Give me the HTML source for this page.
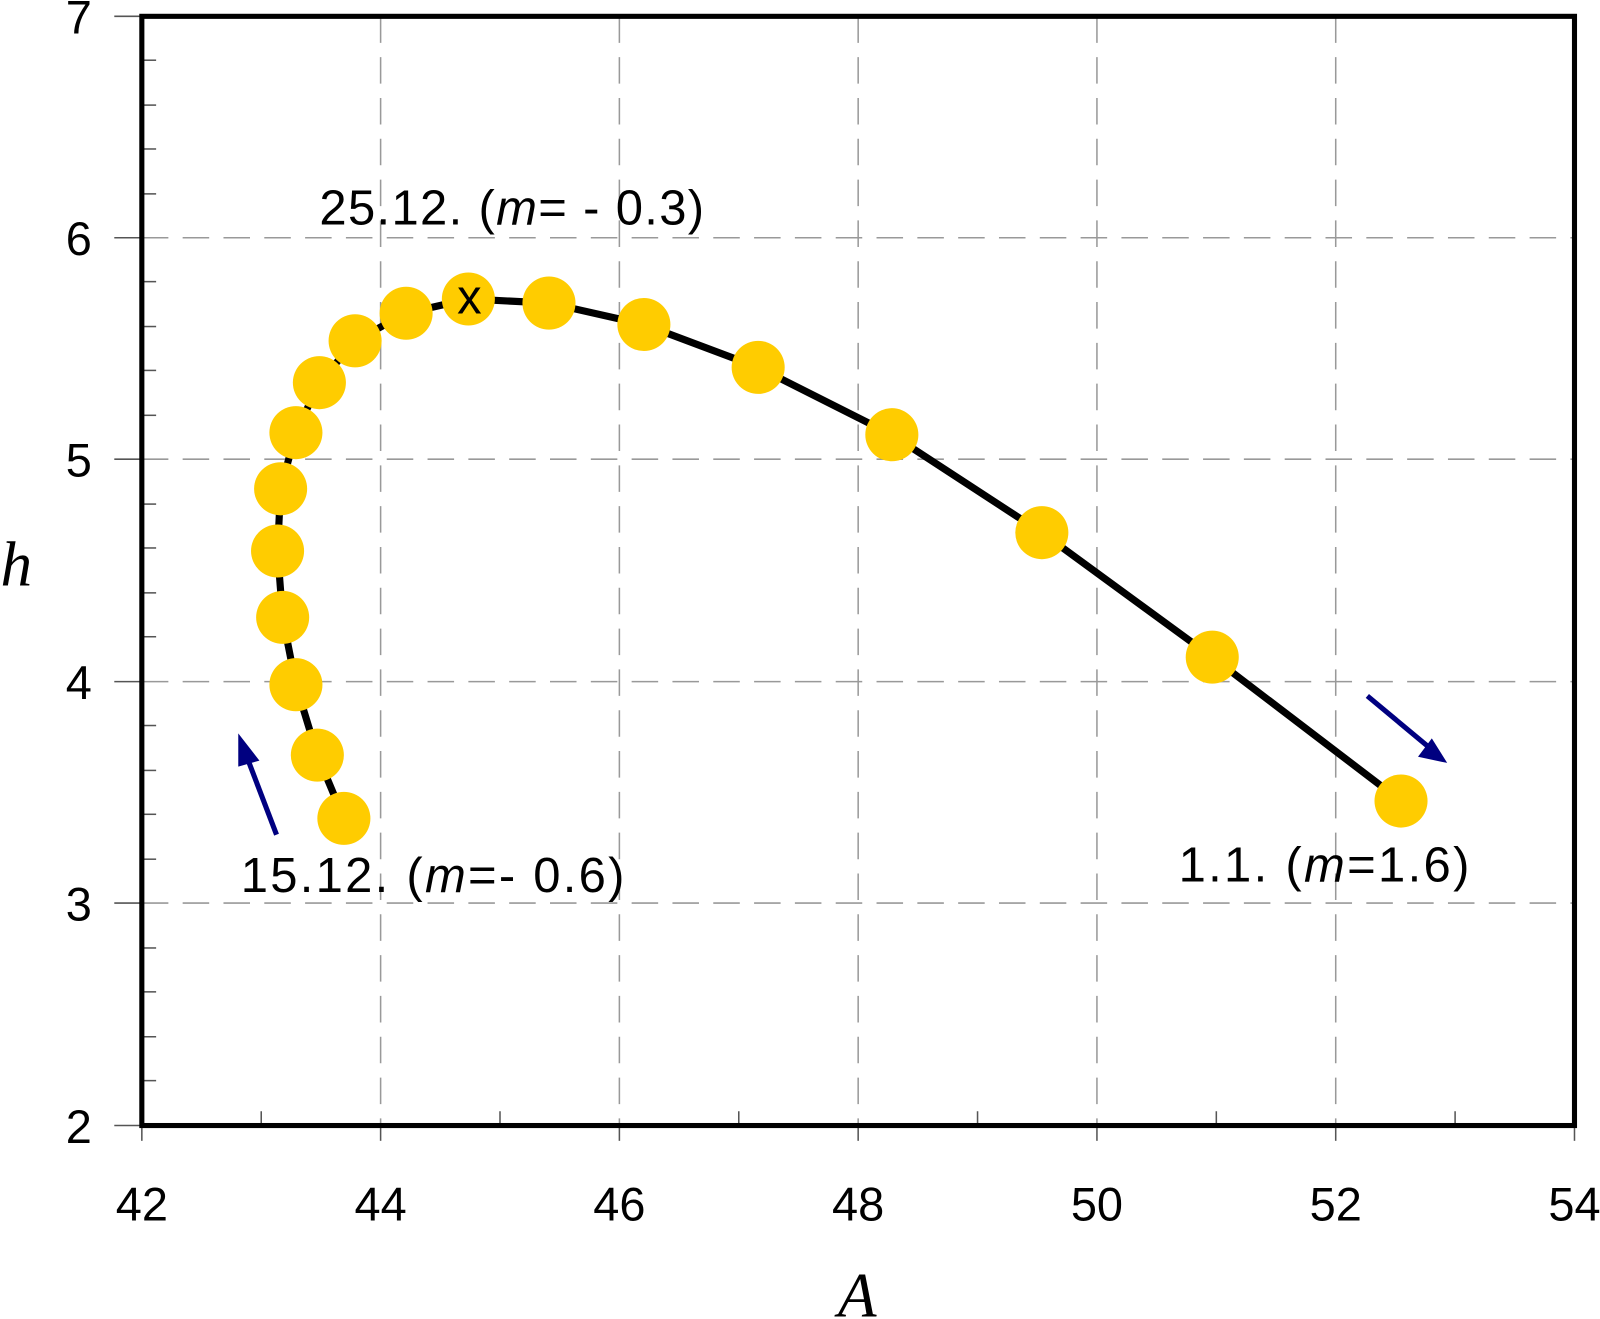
<!DOCTYPE html>
<html><head><meta charset="utf-8"><style>html,body{margin:0;padding:0;background:#fff}svg{display:block}</style></head><body>
<svg width="1600" height="1319" viewBox="0 0 1568 1292.6" preserveAspectRatio="none" xmlns="http://www.w3.org/2000/svg" font-family="Liberation Sans, sans-serif">
<g stroke="#999" stroke-width="1.5" stroke-dasharray="26,14" fill="none">
<line x1="373" y1="16" x2="373" y2="1103"/><line x1="607" y1="16" x2="607" y2="1103"/><line x1="841" y1="16" x2="841" y2="1103"/><line x1="1075" y1="16" x2="1075" y2="1103"/><line x1="1309" y1="16" x2="1309" y2="1103"/>
<line x1="139" y1="233" x2="1543" y2="233"/><line x1="139" y1="450" x2="1543" y2="450"/><line x1="139" y1="668" x2="1543" y2="668"/><line x1="139" y1="885" x2="1543" y2="885"/>
</g>
<g stroke="#555" stroke-width="1.5">
<line x1="139" y1="59" x2="153" y2="59"/><line x1="139" y1="103" x2="153" y2="103"/><line x1="139" y1="146" x2="153" y2="146"/><line x1="139" y1="190" x2="153" y2="190"/>
<line x1="139" y1="276" x2="153" y2="276"/><line x1="139" y1="320" x2="153" y2="320"/><line x1="139" y1="363" x2="153" y2="363"/><line x1="139" y1="407" x2="153" y2="407"/>
<line x1="139" y1="494" x2="153" y2="494"/><line x1="139" y1="537" x2="153" y2="537"/><line x1="139" y1="581" x2="153" y2="581"/><line x1="139" y1="624" x2="153" y2="624"/>
<line x1="139" y1="711" x2="153" y2="711"/><line x1="139" y1="755" x2="153" y2="755"/><line x1="139" y1="798" x2="153" y2="798"/><line x1="139" y1="842" x2="153" y2="842"/>
<line x1="139" y1="929" x2="153" y2="929"/><line x1="139" y1="972" x2="153" y2="972"/><line x1="139" y1="1016" x2="153" y2="1016"/><line x1="139" y1="1059" x2="153" y2="1059"/>
<line x1="256" y1="1103" x2="256" y2="1089"/><line x1="490" y1="1103" x2="490" y2="1089"/><line x1="724" y1="1103" x2="724" y2="1089"/><line x1="958" y1="1103" x2="958" y2="1089"/><line x1="1192" y1="1103" x2="1192" y2="1089"/><line x1="1426" y1="1103" x2="1426" y2="1089"/>
<line x1="112" y1="16" x2="139" y2="16"/><line x1="112" y1="233" x2="139" y2="233"/><line x1="112" y1="450" x2="139" y2="450"/><line x1="112" y1="668" x2="139" y2="668"/><line x1="112" y1="885" x2="139" y2="885"/><line x1="112" y1="1103" x2="139" y2="1103"/>
<line x1="139" y1="1103" x2="139" y2="1118"/><line x1="373" y1="1103" x2="373" y2="1118"/><line x1="607" y1="1103" x2="607" y2="1118"/><line x1="841" y1="1103" x2="841" y2="1118"/><line x1="1075" y1="1103" x2="1075" y2="1118"/><line x1="1309" y1="1103" x2="1309" y2="1118"/><line x1="1543" y1="1103" x2="1543" y2="1118"/>
</g>
<rect x="139" y="16" width="1404" height="1087" fill="none" stroke="#000" stroke-width="5"/>
<polyline fill="none" stroke="#000" stroke-width="7" stroke-linejoin="round" points="337,802 311,740 290,671 277,605 272,540 275,479 290,424 313,375 348,334 398,307 459,293 538,297 631,318 743,360 874,426 1021,522 1188,644 1373,785"/>
<g fill="#ffcc00">
<circle cx="337" cy="802" r="26"/><circle cx="311" cy="740" r="26"/><circle cx="290" cy="671" r="26"/><circle cx="277" cy="605" r="26"/><circle cx="272" cy="540" r="26"/><circle cx="275" cy="479" r="26"/><circle cx="290" cy="424" r="26"/><circle cx="313" cy="375" r="26"/><circle cx="348" cy="334" r="26"/><circle cx="398" cy="307" r="26"/><circle cx="459" cy="293" r="26"/><circle cx="538" cy="297" r="26"/><circle cx="631" cy="318" r="26"/><circle cx="743" cy="360" r="26"/><circle cx="874" cy="426" r="26"/><circle cx="1021" cy="522" r="26"/><circle cx="1188" cy="644" r="26"/><circle cx="1373" cy="785" r="26"/>
</g>
<text x="460" y="307" font-size="48" text-anchor="middle">x</text>
<g stroke="#000080" stroke-width="5" fill="#000080">
<line x1="271" y1="818" x2="242" y2="742"/><polygon points="236,726 250,744 236,748"/>
<line x1="1340" y1="682" x2="1400" y2="732"/><polygon points="1413,744 1394,740 1403,728"/>
</g>
<g font-size="48" fill="#000">
<text x="313" y="220" textLength="377" lengthAdjust="spacing">25.12. (<tspan font-style="italic">m</tspan>= - 0.3)</text>
<text x="236" y="874" textLength="376" lengthAdjust="spacing">15.12. (<tspan font-style="italic">m</tspan>=- 0.6)</text>
<text x="1155" y="864" textLength="285" lengthAdjust="spacing">1.1. (<tspan font-style="italic">m</tspan>=1.6)</text>
</g>
<g font-size="46" text-anchor="middle">
<text x="139" y="1196">42</text><text x="373" y="1196">44</text><text x="607" y="1196">46</text><text x="841" y="1196">48</text><text x="1075" y="1196">50</text><text x="1309" y="1196">52</text><text x="1543" y="1196">54</text>
</g>
<g font-size="46" text-anchor="end">
<text x="90" y="33">7</text><text x="90" y="250">6</text><text x="90" y="467">5</text><text x="90" y="685">4</text><text x="90" y="902">3</text><text x="90" y="1120">2</text>
</g>
<text x="840" y="1290" font-size="62" font-style="italic" font-family="Liberation Serif, serif" text-anchor="middle">A</text>
<text x="16" y="574" font-size="62" font-style="italic" font-family="Liberation Serif, serif" text-anchor="middle">h</text>
</svg>
</body></html>
